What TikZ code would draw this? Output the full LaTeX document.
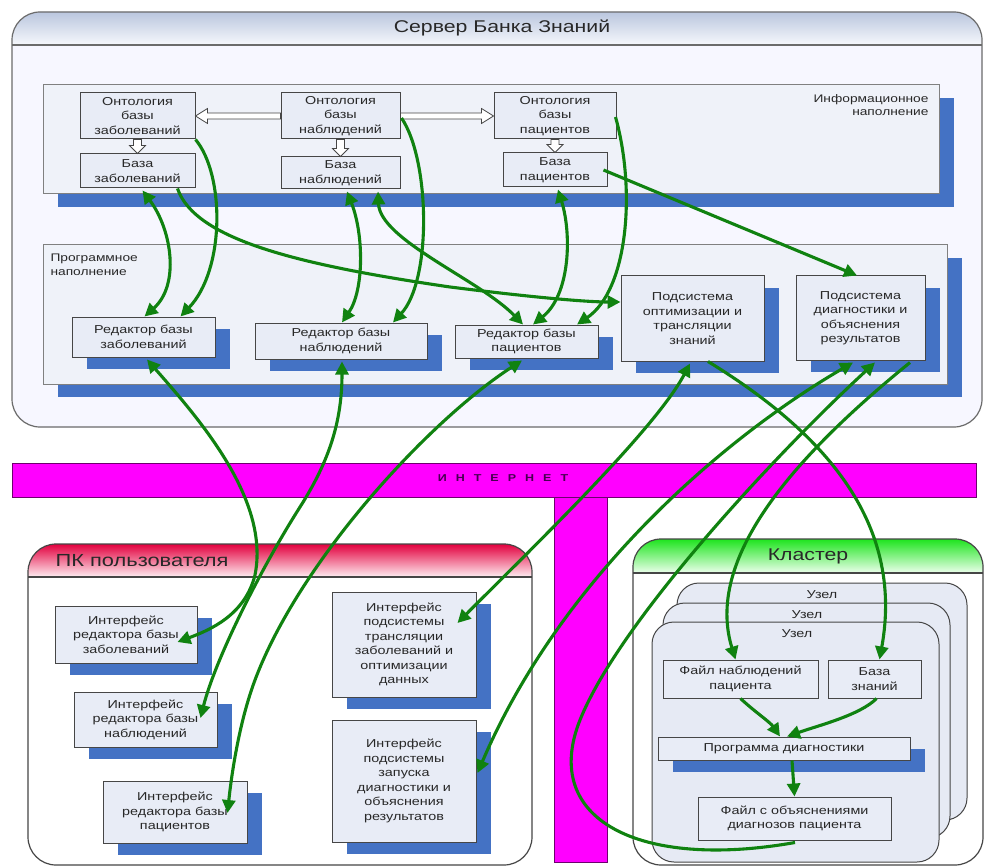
\documentclass[tikz,border=0pt]{standalone}
\usepackage{fontspec}
\setmainfont{Liberation Sans}[FakeStretch=1.25]
\usetikzlibrary{calc,arrows.meta,shadows}
\definecolor{shblue}{RGB}{68,114,196}
\definecolor{boxfill}{RGB}{232,236,246}
\definecolor{blockfill}{RGB}{239,242,249}
\definecolor{grn}{RGB}{16,130,16}
\definecolor{txt}{RGB}{40,40,40}
\definecolor{edge}{RGB}{70,70,70}
\definecolor{inet}{RGB}{255,0,255}
\definecolor{inetedge}{RGB}{110,0,110}
\definecolor{inettext}{RGB}{70,0,80}
\definecolor{nodefill}{RGB}{230,234,244}
\newcommand\hollowarr[5]{%
 \coordinate (hA) at (#1);
 \coordinate (hB) at (#2);
 \coordinate (hC) at ($(hB)!#5pt!(hA)$);
 \draw[hollow] ($(hA)!#3pt!90:(hB)$) -- ($(hC)!#3pt!-90:(hA)$) -- ($(hC)!#4pt!-90:(hA)$) -- (hB) -- ($(hC)!#4pt!90:(hA)$) -- ($(hC)!#3pt!90:(hA)$) -- ($(hA)!#3pt!-90:(hB)$) -- cycle;
}
\tikzset{
 box/.style={draw=edge, line width=1pt, fill=boxfill, inner sep=1pt, align=center, text=txt, font=\fontsize{11.5}{14.5}\selectfont},
 shbox/.style={box, drop shadow={shadow xshift=15pt, shadow yshift=-12pt, opacity=1, fill=shblue}},
 block/.style={draw=gray, line width=1pt, fill=blockfill, drop shadow={shadow xshift=15pt, shadow yshift=-13pt, opacity=1, fill=shblue}},
 link/.style={draw=grn, line width=3.1pt, -{Triangle[length=13pt,width=13pt]}},
 link2/.style={draw=grn, line width=3.1pt, {Triangle[length=13pt,width=13pt]}-{Triangle[length=13pt,width=13pt]}},
 lbl/.style={text=txt, font=\fontsize{11.5}{14}\selectfont},
 hollow/.style={draw=edge, line width=0.8pt, fill=white},
 unit/.style={draw=edge, line width=1pt, fill=nodefill, rounded corners=22pt},
}
\begin{document}
\begin{tikzpicture}[x=1pt,y=-1pt]
\useasboundingbox (0,0) rectangle (984,866);
\fill[white] (0,0) rectangle (984,866);

% ---------- Server ----------
\fill[white!97!blue] [rounded corners=28pt] (12,12) rectangle (982,427);
\begin{scope}
 \clip[rounded corners=28pt] (12,12) rectangle (982,427);
 \shade[top color={rgb,255:red,186;green,198;blue,222}, bottom color={rgb,255:red,246;green,248;blue,252}] (12,12) rectangle (982,45);
\end{scope}
\draw[edge!80, line width=1.2pt] (12,45) -- (982,45);
\draw[edge!80, line width=1.2pt, rounded corners=28pt] (12,12) rectangle (982,427);
\node[text=txt, font=\fontsize{17}{20}\selectfont] (srvT) at (502,28) {Сервер Банка Знаний};

% information block
\node[block, minimum width=896pt, minimum height=109pt, inner sep=0pt] (info) at (491,139.5) {};
\node[lbl, align=right, anchor=north east, font=\fontsize{11}{12.7}\selectfont] (infoT) at (932,91) {Информационное\\наполнение};

\node[box, minimum width=115pt, minimum height=46pt] (ontZ) at (137.5,116) {Онтология\\базы\\заболеваний};
\node[box, minimum width=115pt, minimum height=34pt] (baseZ) at (137.5,171) {База\\заболеваний};
\node[box, minimum width=119pt, minimum height=46pt] (ontN) at (340.5,116) {Онтология\\базы\\наблюдений};
\node[box, minimum width=119pt, minimum height=32pt] (baseN) at (340.5,173) {База\\наблюдений};
\node[box, minimum width=122pt, minimum height=46pt] (ontP) at (555,116) {Онтология\\базы\\пациентов};
\node[box, minimum width=104pt, minimum height=34pt] (baseP) at (555,170) {База\\пациентов};

\hollowarr{ontN.west}{ontZ.east}{3}{7.5}{12}
\hollowarr{ontN.east}{ontP.west}{3}{7.5}{12}
\hollowarr{ontZ.south}{baseZ.north}{4}{8}{8}
\hollowarr{ontN.south}{baseN.north}{4}{8}{8}
\hollowarr{ontP.south}{baseP.north}{4}{8}{8}

% program block
\node[block, minimum width=904pt, minimum height=139pt, inner sep=0pt] (prg) at (495,314.5) {};
\node[lbl, align=left, anchor=north west, font=\fontsize{11}{14}\selectfont] (prgT) at (47,250) {Программное\\наполнение};

\node[shbox, minimum width=143pt, minimum height=40pt] (edZ) at (143.5,337) {Редактор базы\\заболеваний};
\node[shbox, minimum width=172pt, minimum height=36pt] (edN) at (341,341) {Редактор базы\\наблюдений};
\node[shbox, minimum width=143pt, minimum height=33pt] (edP) at (526.5,341.5) {Редактор базы\\пациентов};
\node[shbox, minimum width=143pt, minimum height=85pt] (subOpt) at (692.5,318.5) {Подсистема\\оптимизации и\\трансляции\\знаний};
\node[shbox, minimum width=129pt, minimum height=84pt] (subDiag) at (860.5,318) {Подсистема\\диагностики и\\объяснения\\результатов};

% ---------- Internet ----------
\draw[fill=inet, draw=inetedge, line width=1pt] (554,490) rectangle (607,862);
\draw[fill=inet, draw=inetedge, line width=1pt] (12,463) rectangle (976,497);
\node[text=inettext, font=\fontsize{10}{11}\bfseries] (inetT) at (503,478) {\spaceskip=9pt И Н Т Е Р Н Е Т};

% ---------- PC ----------
\fill[white][rounded corners=28pt] (28,544) rectangle (532,865);
\begin{scope}
 \clip[rounded corners=28pt] (28,544) rectangle (532,865);
 \shade[top color={rgb,255:red,226;green,0;blue,62}, bottom color={rgb,255:red,255;green,238;blue,242}] (28,544) rectangle (532,577);
\end{scope}
\draw[edge, line width=1.2pt] (28,577) -- (532,577);
\draw[edge, line width=1.2pt, rounded corners=28pt] (28,544) rectangle (532,865);
\node[text=txt, font=\fontsize{17.5}{20}\selectfont, anchor=west] (pcT) at (52,561) {ПК пользователя};

\node[shbox, minimum width=142pt, minimum height=57pt] (ifZ) at (126,634.5) {Интерфейс\\редактора базы\\заболеваний};
\node[shbox, minimum width=143pt, minimum height=55pt] (ifN) at (145.5,719.5) {Интерфейс\\редактора базы\\наблюдений};
\node[shbox, minimum width=144pt, minimum height=62pt] (ifP) at (175,812) {Интерфейс\\редактора базы\\пациентов};
\node[shbox, minimum width=144pt, minimum height=105pt] (ifT) at (404,644.5) {Интерфейс\\подсистемы\\трансляции\\заболеваний и\\оптимизации\\данных};
\node[shbox, minimum width=144pt, minimum height=122pt] (ifD) at (404,781) {Интерфейс\\подсистемы\\запуска\\диагностики и\\объяснения\\результатов};

% ---------- Cluster ----------
\fill[white][rounded corners=28pt] (633,539) rectangle (983,865);
\begin{scope}
 \clip[rounded corners=28pt] (633,539) rectangle (983,865);
 \shade[top color={rgb,255:red,30;green,228;blue,30}, bottom color={rgb,255:red,236;green,255;blue,236}] (633,539) rectangle (983,573);
\end{scope}
\draw[edge, line width=1.2pt] (633,573) -- (983,573);
\draw[edge, line width=1.2pt, rounded corners=28pt] (633,539) rectangle (983,865);
\node[text=txt, font=\fontsize{17}{20}\selectfont] (clT) at (808,556) {Кластер};

\draw[unit] (677,583) rectangle (967,820);
\node[lbl] (u1) at (822,595) {Узел};
\draw[unit] (663,603) rectangle (950,838);
\node[lbl] (u2) at (807,615) {Узел};
\draw[unit] (652,622) rectangle (939,862);
\node[lbl] (u3) at (797,634) {Узел};

\node[box, minimum width=155pt, minimum height=38pt] (fileN) at (740.5,679) {Файл наблюдений\\пациента};
\node[box, minimum width=93pt, minimum height=38pt] (kb) at (874.5,679) {База\\знаний};
\node[shbox, minimum width=252pt, minimum height=23pt] (prog) at (784,748.5) {Программа диагностики};
\node[box, minimum width=193pt, minimum height=43pt] (fileE) at (794.5,818.5) {Файл с объяснениями\\диагнозов пациента};

% ---------- Green links ----------
\draw[link2] ($(baseZ.south)+(5,2)$) .. controls (172,230) and (180,285) .. ($(edZ.north)+(1,0)$);
\draw[link] (ontZ.south east) .. controls (225,175) and (225,270) .. ($(edZ.north)+(37,0)$);
\draw[link] ($(baseZ.south east)+(-18,0)$) .. controls (195,240) and (300,265) .. (450,287) .. controls (530,297) and (585,302) .. ($(subOpt.west)+(0,-16.5)$);
\draw[link] ($(ontN.east)+(1,2)$) .. controls (430,160) and (432,280) .. ($(edN.north)+(52,0)$);
\draw[link2] ($(baseN.south)+(6.5,2)$) .. controls (364,235) and (364,290) .. ($(edN.north)+(1,0)$);
\draw[link2] ($(baseN.south)+(37.5,2)$) .. controls (380,240) and (480,280) .. ($(edP.north)+(-3.5,0)$);
\draw[link2] ($(baseP.south)+(3,2)$) .. controls (572,235) and (570,295) .. ($(edP.north)+(6.5,0)$);
\draw[link] ($(ontP.east)+(-1,1)$) .. controls (636,190) and (628,290) .. ($(edP.north)+(50.5,0)$);
\draw[link] ($(baseP.east)+(-4,0)$) -- ($(subDiag.north)+(-3.5,0)$);

\draw[link2] ($(edZ.south)+(3.5,2)$) .. controls (200,420) and (270,500) .. (255,575) .. controls (245,615) and (210,630) .. ($(ifZ.east)+(-20,7.5)$);
\draw[link2] ($(edN.south)+(1,2)$) .. controls (342,420) and (330,460) .. (300,507) .. controls (260,570) and (215,660) .. ($(ifN.east)+(-17,-1.5)$);
\draw[link2] ($(edP.south)+(-4.5,2)$) .. controls (430,420) and (300,560) .. (255,680) .. controls (240,720) and (232,770) .. ($(ifP.east)+(-20,1)$);
\draw[link2] ($(subOpt.south)+(-2.5,2)$) .. controls (655,430) and (530,550) .. ($(ifT.east)+(-19,-21.5)$);
\draw[link2] ($(subDiag.south)+(-7.5,2)$) .. controls (720,440) and (560,580) .. ($(ifD.east)+(1,-8)$);
\draw[link] ($(fileE.south)+(0.5,2)$) .. controls (640,870) and (540,820) .. (580,720) .. controls (620,620) and (780,450) .. ($(subDiag.south)+(14.5,2)$);
\draw[link] ($(subDiag.south)+(49.5,2)$) .. controls (790,460) and (705,560) .. ($(fileN.north)+(-5,0)$);
\draw[link] ($(subOpt.south)+(15.5,0)$) .. controls (820,430) and (905,520) .. ($(kb.north)+(5,0)$);

\draw[link] (fileN.south) .. controls (755,712) and (770,722) .. ($(prog.north)+(-4,0)$);
\draw[link] ($(kb.south)+(2,0)$) .. controls (860,715) and (820,725) .. ($(prog.north)+(3,0)$);
\draw[link] ($(prog.south)+(8,0)$) -- (fileE.north);
\end{tikzpicture}
\end{document}
